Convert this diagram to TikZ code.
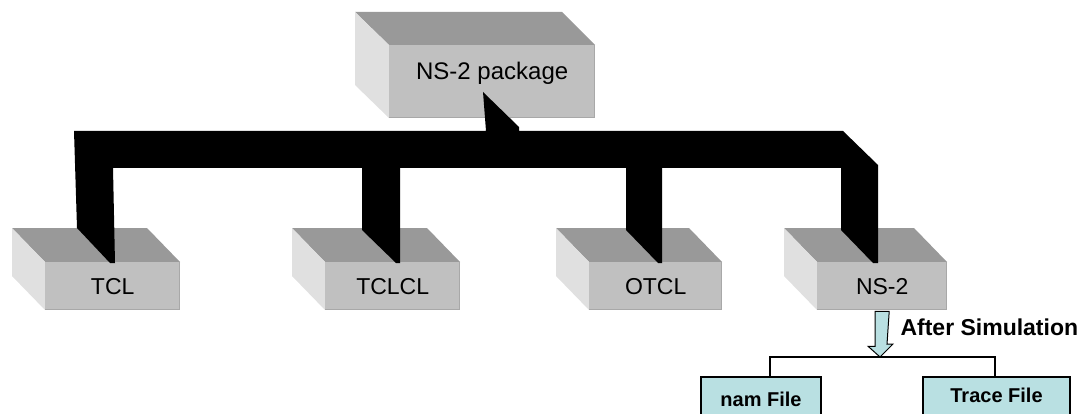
\documentclass[tikz,border=0pt]{standalone}
\usepackage{fontspec}
\setmainfont{Liberation Sans}
\definecolor{topgray}{RGB}{153,153,153}
\definecolor{frontgray}{RGB}{192,192,192}
\definecolor{sidegray}{RGB}{224,224,224}
\definecolor{edgegray}{RGB}{168,168,168}
\definecolor{filecyan}{RGB}{185,224,226}
\tikzset{
  front/.style={fill=frontgray, inner sep=0pt, font=\fontsize{23}{26}\selectfont,
                text height=16.5pt, text depth=0pt},
  topface/.style={fill=topgray},
  sideface/.style={fill=sidegray},
  shadowedge/.style={draw=edgegray, line width=1.5pt},
  bus/.style={fill=black},
  filebox/.style={draw=black, line width=1.6pt, fill=filecyan, inner sep=0pt,
                  anchor=north, font=\bfseries\fontsize{20}{24}\selectfont},
  tree/.style={draw=black, line width=1.4pt},
  blockarrow/.style={draw=black, line width=1pt, fill=filecyan, line join=miter},
}
% slab box: name, front-left x, front-top y, width, height, text
\newcommand\slabbox[6]{%
  \fill[topface] (#2,#3) -- ++(-33,-34) -- ++(#4,0) -- ++(33,34) -- cycle;
  \fill[sideface] (#2,#3) -- ++(-33,-34) -- ++(0,#5) -- ++(33,34) -- cycle;
  \node[front, minimum width=#4pt, minimum height=#5pt, anchor=north west] (#1) at (#2,#3) {#6};
  \draw[shadowedge] ([yshift=0.75pt]#1.south west) -- ([xshift=-0.75pt,yshift=0.75pt]#1.south east) -- ([xshift=-0.75pt]#1.north east);
}
\begin{document}
\begin{tikzpicture}[x=1pt,y=-1pt]
  \useasboundingbox (0,0) rectangle (1086,414);
  \clip (0,0) rectangle (1086,414);

  % package box on top
  \fill[topface] (389,45) -- ++(-34,-33) -- ++(207,0) -- ++(33,33) -- cycle;
  \fill[sideface] (389,45) -- ++(-34,-33) -- ++(0,73) -- ++(34,33) -- cycle;
  \node[front, minimum width=206pt, minimum height=73pt, anchor=north west,
        text height=17pt, text depth=22pt, font=\fontsize{24}{28}\selectfont]
        (pkg) at (389,45) {NS-2 package};
  \draw[shadowedge] ([yshift=0.75pt]pkg.south west) -- ([xshift=-0.75pt,yshift=0.75pt]pkg.south east) -- ([xshift=-0.75pt]pkg.north east);

  % component boxes
  \slabbox{tcl}{45}{262}{135}{48}{TCL}
  \slabbox{tclcl}{325}{262}{135}{48}{TCLCL}
  \slabbox{otcl}{589}{262}{133}{48}{OTCL}
  \slabbox{ns}{817}{262}{130}{48}{NS-2}

  % thick bus from the package down to every component
  \fill[bus] (74,131) -- (486,131) -- (483,92) -- (519,127) -- (519,131)
    -- (843,131) -- (878,165) -- (878,263) -- (873,263) -- (841,230) -- (841,168)
    -- (662,168) -- (662,263) -- (658,263) -- (626,230) -- (626,168)
    -- (400,168) -- (400,263) -- (396,263) -- (362,230) -- (362,168)
    -- (113,168) -- (115,263) -- (110,263) -- (77,228) -- cycle;

  % output files
  \node[filebox, minimum width=120pt, minimum height=50pt, text height=14.5pt, text depth=4.5pt]
        (nam) at (761,376) {nam File};
  \node[filebox, minimum width=147pt, minimum height=50pt, text height=14.5pt, text depth=12.5pt]
        (trace) at (996.5,376) {Trace File};

  % block arrow out of NS-2 and split line
  \coordinate (split) at (880,357);
  \draw[tree] ([xshift=9pt]nam.north) |- (split) -| ([xshift=-1.5pt]trace.north);
  \draw[blockarrow] ([xshift=-7pt,yshift=-1pt]ns.south) -- ++(0,35) -- ++(-7,0)
    -- (split) -- (893,344) -- (887,344) -- ([xshift=7pt,yshift=-1pt]ns.south) -- cycle;
  \node[anchor=base west, font=\bfseries\fontsize{23}{26}\selectfont] (after) at (897,335) {After Simulation};
\end{tikzpicture}
\end{document}
